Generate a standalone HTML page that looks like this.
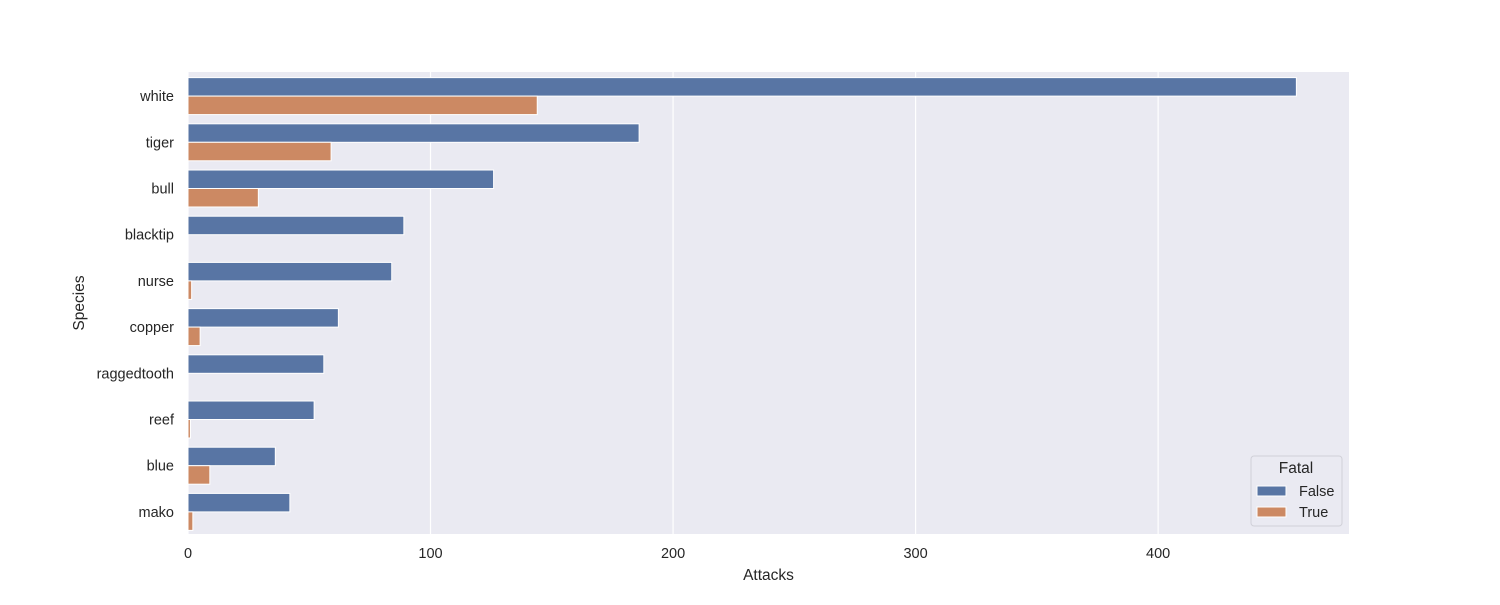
<!DOCTYPE html>
<html><head><meta charset="utf-8"><style>
body{margin:0;background:#fff;font-family:"Liberation Sans",sans-serif;}
svg text{font-family:"Liberation Sans",sans-serif;fill:#262626;}
</style></head><body>
<svg id="chart" width="1500" height="600"></svg>
<script>
const categories=["white","tiger","bull","blacktip","nurse","copper","raggedtooth","reef","blue","mako"];
const falseValues=[457,186,126,89,84,62,56,52,36,42];
const trueValues=[144,59,29,0,1.5,5,0,1,9,2];
const xTicks=[0,100,200,300,400];
const NS="http://www.w3.org/2000/svg";
const svg=document.getElementById('chart');
const L=188,R=1349,T=72,B=534;
const xMax=478.7;
const x=v=>L+v/xMax*(R-L);
const band=(B-T)/categories.length;
function mk(tag,a,parent){const e=document.createElementNS(NS,tag);for(const k in a)e.setAttribute(k,a[k]);(parent||svg).appendChild(e);return e;}
const bg=mk('rect',{x:L,y:T,width:R-L,height:B-T,fill:'#eaeaf2'});


xTicks.forEach(t=>{
 const g=mk('line',{x1:x(t),x2:x(t),y1:T,y2:B,stroke:'#fff','stroke-width':1.2});
 
 
 const tl=mk('text',{x:x(t),y:558,'text-anchor':'middle','font-size':14.5});
 tl.textContent=t;
 
 
});
const bh=band*0.4;
categories.forEach((c,i)=>{
 const cy=T+band*(i+0.5)+1;
 const b1=mk('rect',{x:L,y:cy-bh,width:x(falseValues[i])-L,height:bh,fill:'#5875a4',stroke:'#fff','stroke-width':1});
 
 
 const b2=mk('rect',{x:L,y:cy,width:x(trueValues[i])-L,height:bh,fill:'#cc8963',stroke:'#fff','stroke-width':1});
 
 
 const tl=mk('text',{x:174,y:cy+5,'text-anchor':'end','font-size':14.5});
 tl.textContent=c;
 
 
});
const xt=mk('text',{x:(L+R)/2,y:580,'text-anchor':'middle','font-size':15.5});
xt.textContent='Attacks';


const yt=mk('text',{x:84,y:303,'text-anchor':'middle','font-size':15.5,transform:'rotate(-90 84 303)'});
yt.textContent='Species';


const lg=mk('g',{});


mk('rect',{x:1251,y:456,width:91,height:70,rx:3,fill:'#eaeaf2',stroke:'#d0d0d8'},lg);
const lt=mk('text',{x:1296,y:473,'text-anchor':'middle','font-size':15.5},lg);lt.textContent='Fatal';
[['False','#5875a4',486],['True','#cc8963',507]].forEach(([n,col,y])=>{
 const e=mk('g',{},lg);
 
 
 mk('rect',{x:1257,y:y,width:29,height:10,fill:col,stroke:'#fff'},e);
 const t=mk('text',{x:1299,y:y+10,'font-size':14.5},e);t.textContent=n;
});
</script>
</body></html>
